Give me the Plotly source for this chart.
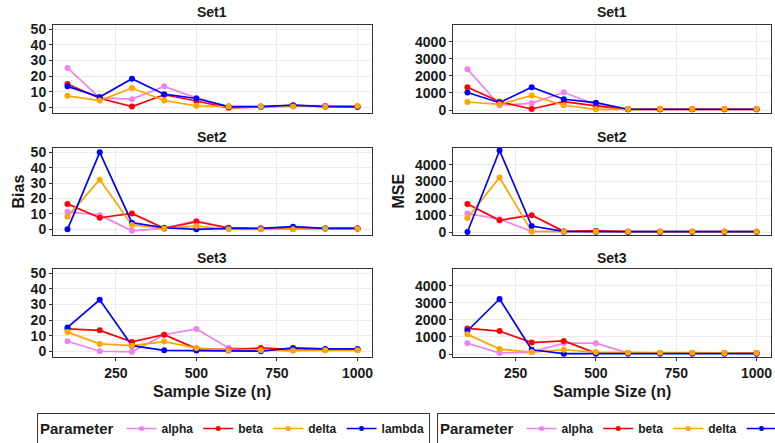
import plotly.graph_objects as go

# Simulation results: bias and MSE of each parameter estimate by sample size
sample_sizes = [100, 200, 300, 400, 500, 600, 700, 800, 900, 1000]
parameters = ["alpha", "beta", "delta", "lambda"]
set_names = ["Set1", "Set2", "Set3"]

bias_set1 = {
    "alpha":  [25.2, 6.0, 5.2, 13.4, 6.0, 0.2, 0.3, 1.0, 1.0, 0.3],
    "beta":   [14.9, 5.8, 0.4, 8.0, 4.0, -0.4, 0.2, 1.0, 0.5, 0.2],
    "delta":  [7.3, 4.3, 12.3, 4.3, 0.9, 0.4, 0.4, 0.4, 0.4, 0.8],
    "lambda": [13.4, 6.5, 18.3, 8.4, 5.6, 0.4, 0.4, 1.3, 0.4, 0.4],
}
bias_set2 = {
    "alpha":  [11.4, 9.2, -1.0, 0.6, 5.6, 0.6, 0.5, 0.5, 0.5, 0.5],
    "beta":   [16.5, 7.5, 10.3, 0.6, 4.9, 1.0, 0.3, 0.6, 0.6, 0.6],
    "delta":  [8.2, 32.2, 2.8, 0.6, 2.1, 0.0, 0.0, 0.0, 0.4, 0.4],
    "lambda": [0.0, 50.0, 4.3, 1.0, 0.0, 0.6, 0.6, 1.7, 0.6, 0.6],
}
bias_set3 = {
    "alpha":  [6.4, 0.0, -0.4, 10.6, 14.3, 2.1, 1.0, 0.4, 1.0, 1.0],
    "beta":   [14.3, 13.4, 6.0, 10.6, 1.7, 1.0, 2.1, 1.0, 1.0, 1.0],
    "delta":  [12.3, 4.7, 3.6, 6.2, 2.1, 0.6, 0.6, 0.4, 0.6, 0.6],
    "lambda": [15.3, 33.0, 3.6, 0.6, 0.4, 0.4, 0.0, 2.1, 1.5, 1.5],
}
mse_set1 = {
    "alpha":  [2400, 280, 390, 1040, 300, 40, 40, 40, 40, 40],
    "beta":   [1340, 490, 60, 490, 240, 40, 40, 40, 40, 40],
    "delta":  [470, 335, 850, 280, 40, 55, 55, 55, 55, 55],
    "lambda": [1025, 430, 1340, 630, 430, 45, 45, 45, 45, 45],
}
mse_set2 = {
    "alpha":  [1100, 760, 40, 40, 40, 20, 20, 20, 20, 20],
    "beta":   [1660, 700, 1000, 40, 80, 20, 20, 20, 20, 20],
    "delta":  [840, 3240, 40, 40, 40, 30, 30, 30, 30, 30],
    "lambda": [0, 4840, 360, 40, 20, 25, 25, 25, 25, 25],
}
mse_set3 = {
    "alpha":  [635, 58, 115, 635, 635, 58, 58, 58, 58, 58],
    "beta":   [1500, 1346, 673, 770, 58, 58, 58, 58, 58, 58],
    "delta":  [1154, 288, 115, 250, 115, 77, 77, 77, 58, 58],
    "lambda": [1365, 3230, 250, 20, 20, 20, 20, 20, 20, 20],
}

bias_sets = [bias_set1, bias_set2, bias_set3]
mse_sets = [mse_set1, mse_set2, mse_set3]

colors = {"alpha": "violet", "beta": "red", "delta": "orange", "lambda": "blue"}
# points are stacked above all lines; delta points end up on top
point_order = ["alpha", "beta", "lambda", "delta"]

W, H = 775, 443
FONT = "Arial, Liberation Sans, sans-serif"
INK = "#1a1a1a"

# panel geometry in pixels
col_x = [(53, 372), (453, 771)]
row_y = [(25, 113), (148, 235), (269, 357)]
title_y = [12, 137, 258]


def px_x(x):
    return x / W


def px_y(y):
    return 1 - y / H


fig = go.Figure()
layout = {}

for c, (metric_sets, yrange, ydtick, legend_id) in enumerate([
    (bias_sets, [-3.7, 52.8], 10, "legend"),
    (mse_sets, [-175, 4990], 1000, "legend2"),
]):
    for r in range(3):
        idx = r * 2 + c + 1
        suffix = "" if idx == 1 else str(idx)
        data = metric_sets[r]
        # line layer
        for p in parameters:
            fig.add_trace(go.Scatter(
                x=sample_sizes, y=data[p], name=p, mode="lines",
                line=dict(color=colors[p], width=1.7),
                xaxis="x" + suffix, yaxis="y" + suffix,
                showlegend=False, hoverinfo="skip",
            ))
        # point layer
        for p in point_order:
            fig.add_trace(go.Scatter(
                x=sample_sizes, y=data[p], name=p, mode="markers",
                marker=dict(color=colors[p], size=6),
                xaxis="x" + suffix, yaxis="y" + suffix,
                showlegend=False,
            ))
        # legend keys with a small point on the line
        if r == 0:
            for p in parameters:
                fig.add_trace(go.Scatter(
                    x=[None], y=[None], name=p, mode="lines+markers",
                    line=dict(color=colors[p], width=1.5),
                    marker=dict(color=colors[p], size=5),
                    xaxis="x" + suffix, yaxis="y" + suffix,
                    legend=legend_id, showlegend=True,
                ))
        bottom = r == 2
        layout["xaxis" + suffix] = dict(
            domain=[px_x(col_x[c][0]), px_x(col_x[c][1])],
            anchor="y" + suffix, range=[55, 1045],
            tickvals=[250, 500, 750, 1000],
            showticklabels=bottom, ticks="outside" if bottom else "",
            ticklen=3, tickcolor="#333", tickwidth=1,
            tickfont=dict(family=FONT, size=14, color=INK, weight="bold"),
            showline=True, mirror=True, linecolor="#333", linewidth=1,
            showgrid=True, gridcolor="#ebebeb", gridwidth=1, zeroline=False,
        )
        layout["yaxis" + suffix] = dict(
            domain=[px_y(row_y[r][1]), px_y(row_y[r][0])],
            anchor="x" + suffix, range=yrange, dtick=ydtick, tick0=0,
            ticks="outside", ticklen=3, tickcolor="#333", tickwidth=1,
            tickfont=dict(family=FONT, size=14, color=INK, weight="bold"),
            showline=True, mirror=True, linecolor="#333", linewidth=1,
            showgrid=True, gridcolor="#ebebeb", gridwidth=1, zeroline=False,
        )

annotations = []
for c in range(2):
    cx = px_x((col_x[c][0] + col_x[c][1]) / 2)
    for r in range(3):
        annotations.append(dict(
            text=set_names[r], x=cx, y=px_y(title_y[r]),
            xref="paper", yref="paper", xanchor="center", yanchor="middle",
            showarrow=False, font=dict(family=FONT, size=14, color=INK, weight="bold"),
        ))
    annotations.append(dict(
        text="Sample Size (n)", x=cx, y=px_y(391),
        xref="paper", yref="paper", xanchor="center", yanchor="middle",
        showarrow=False, font=dict(family=FONT, size=16, color=INK, weight="bold"),
    ))

mid_y = px_y((row_y[1][0] + row_y[1][1]) / 2)
for label, lx in [("Bias", 18), ("MSE", 398)]:
    annotations.append(dict(
        text=label, x=px_x(lx), y=mid_y, textangle=-90,
        xref="paper", yref="paper", xanchor="center", yanchor="middle",
        showarrow=False, font=dict(family=FONT, size=16, color=INK, weight="bold"),
    ))

legend_style = dict(
    orientation="h", yanchor="top", xanchor="left",
    bordercolor="#333", borderwidth=1, bgcolor="white",
    title=dict(text="Parameter", font=dict(family=FONT, size=15, color=INK, weight="bold")),
    font=dict(family=FONT, size=12, color=INK, weight="bold"),
    itemwidth=30,
)

fig.update_layout(
    width=W, height=H,
    margin=dict(l=0, r=0, t=0, b=0, autoexpand=False),
    paper_bgcolor="white", plot_bgcolor="white",
    annotations=annotations,
    legend=dict(legend_style, x=px_x(37), y=px_y(413)),
    legend2=dict(legend_style, x=px_x(437), y=px_y(413)),
    **layout,
)

fig.write_html("out.html")
